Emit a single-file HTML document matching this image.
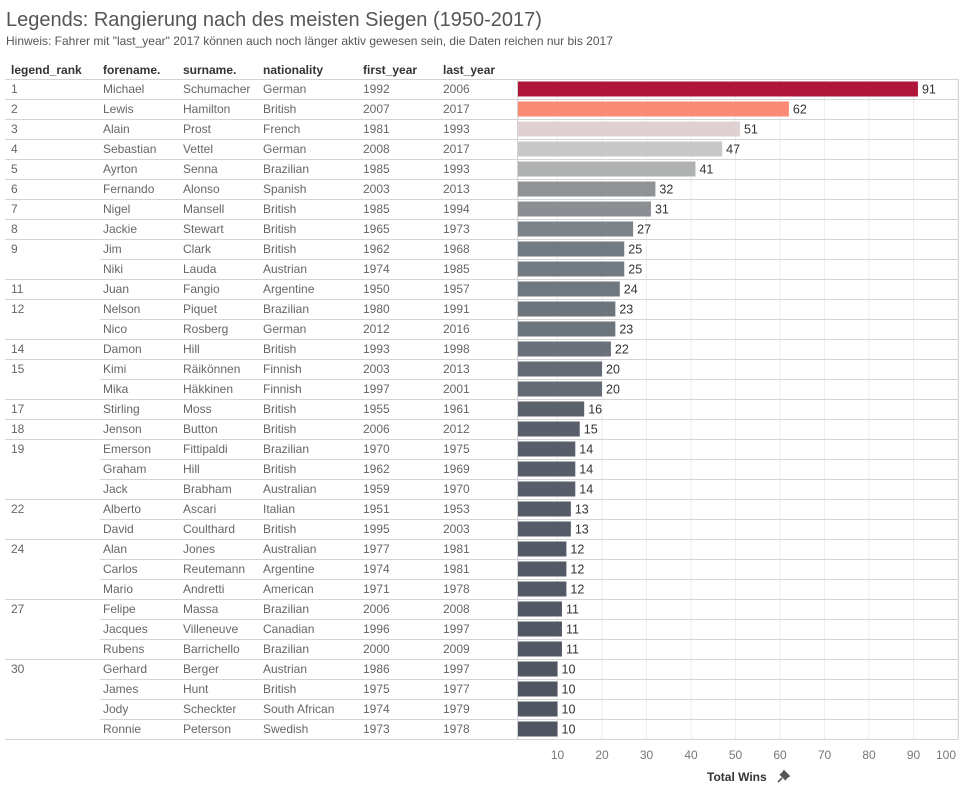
<!DOCTYPE html>
<html><head><meta charset="utf-8"><style>
body{margin:0;background:#fff;width:973px;height:786px;overflow:hidden;font-family:"Liberation Sans",sans-serif;color:#555}
</style></head><body>
<svg id="c" width="973" height="786" xmlns="http://www.w3.org/2000/svg"></svg>
<script>
const ranks=[1,2,3,4,5,6,7,8,9,9,11,12,12,14,15,15,17,18,19,19,19,22,22,24,24,24,27,27,27,30,30,30,30];
const forenames=["Michael","Lewis","Alain","Sebastian","Ayrton","Fernando","Nigel","Jackie","Jim","Niki","Juan","Nelson","Nico","Damon","Kimi","Mika","Stirling","Jenson","Emerson","Graham","Jack","Alberto","David","Alan","Carlos","Mario","Felipe","Jacques","Rubens","Gerhard","James","Jody","Ronnie"];
const surnames=["Schumacher","Hamilton","Prost","Vettel","Senna","Alonso","Mansell","Stewart","Clark","Lauda","Fangio","Piquet","Rosberg","Hill","Räikönnen","Häkkinen","Moss","Button","Fittipaldi","Hill","Brabham","Ascari","Coulthard","Jones","Reutemann","Andretti","Massa","Villeneuve","Barrichello","Berger","Hunt","Scheckter","Peterson"];
const nationalities=["German","British","French","German","Brazilian","Spanish","British","British","British","Austrian","Argentine","Brazilian","German","British","Finnish","Finnish","British","British","Brazilian","British","Australian","Italian","British","Australian","Argentine","American","Brazilian","Canadian","Brazilian","Austrian","British","South African","Swedish"];
const firstYears=[1992,2007,1981,2008,1985,2003,1985,1965,1962,1974,1950,1980,2012,1993,2003,1997,1955,2006,1970,1962,1959,1951,1995,1977,1974,1971,2006,1996,2000,1986,1975,1974,1973];
const lastYears=[2006,2017,1993,2017,1993,2013,1994,1973,1968,1985,1957,1991,2016,1998,2013,2001,1961,2012,1975,1969,1970,1953,2003,1981,1981,1978,2008,1997,2009,1997,1977,1979,1978];
const wins=[91,62,51,47,41,32,31,27,25,25,24,23,23,22,20,20,16,15,14,14,14,13,13,12,12,12,11,11,11,10,10,10,10];
const ticks=[10,20,30,40,50,60,70,80,90,100];

const svg=document.getElementById('c');
const NS='http://www.w3.org/2000/svg';
function mk(t,a,txt){const e=document.createElementNS(NS,t);for(const k in a)e.setAttribute(k,a[k]);if(txt!==undefined)e.textContent=txt;svg.appendChild(e);return e;}
const x=v=>513+4.45*v;
const top0=79,rh=20;
const stops=[[10,[79,85,97]],[20,[100,107,116]],[25,[115,123,130]],[31,[139,143,147]],[41,[176,178,178]],[47,[200,200,200]],[51,[223,209,209]],[62,[250,138,116]],[91,[176,21,60]]];
function col(v){for(let i=0;i<stops.length-1;i++){const[a,ca]=stops[i],[b,cb]=stops[i+1];if(v<=b){const t=Math.max(0,(v-a)/(b-a));return 'rgb('+ca.map((c,j)=>Math.round(c+(cb[j]-c)*t)).join(',')+')';}}return 'rgb(176,21,60)';}

let e;
e=mk('text',{x:6,y:26,'font-size':20,fill:'#555'},'Legends: Rangierung nach des meisten Siegen (1950-2017)');

e=mk('text',{x:6,y:45,'font-size':12,fill:'#555'},'Hinweis: Fahrer mit "last_year" 2017 können auch noch länger aktiv gewesen sein, die Daten reichen nur bis 2017');

const cols=[11,103,183,263,363,443];
const heads=['legend_rank','forename.','surname.','nationality','first_year','last_year'];
heads.forEach((h,i)=>{const t=mk('text',{x:cols[i],y:74,'font-size':12,'font-weight':'bold',fill:'#333'},h);
});
ticks.forEach(t=>{const l=mk('line',{x1:x(t),x2:x(t),y1:top0,y2:top0+rh*wins.length,stroke:'#eee'});
});
const n=wins.length;
for(let i=0;i<n;i++){
  const y=top0+rh*i;
  const newGroup=i===0||ranks[i]!==ranks[i-1];
  const ln=mk('line',{x1:newGroup?5:100,x2:958,y1:y+0.5,y2:y+0.5,stroke:'#d4d4d4'});
  
  const vals=[newGroup?ranks[i]:'',forenames[i],surnames[i],nationalities[i],firstYears[i],lastYears[i]];
  vals.forEach((v,j)=>{if(v==='')return;const t=mk('text',{x:cols[j],y:y+14,'font-size':12,fill:'#666'},v);
    });
  const b=mk('rect',{x:518,y:y+2.5,width:x(wins[i])-518,height:15,fill:col(wins[i])});
  
  const lb=mk('text',{x:x(wins[i])+4,y:y+14.5,'font-size':12.5,fill:'#333'},wins[i]);
  
}
const bottom=top0+rh*n;
e=mk('line',{x1:5,x2:958,y1:bottom+0.5,y2:bottom+0.5,stroke:'#d4d4d4'});
e=mk('line',{x1:517.5,x2:517.5,y1:top0,y2:bottom,stroke:'#d4d4d4'});
e=mk('line',{x1:958.5,x2:958.5,y1:top0,y2:bottom,stroke:'#d4d4d4'});
ticks.forEach(t=>{const tx=mk('text',{x:t===100?x(t)-2:x(t),y:759,'font-size':12,fill:'#777','text-anchor':t===100?'end':'middle'},t);
  });
e=mk('text',{x:707,y:781,'font-size':12,'font-weight':'bold',fill:'#333'},'Total Wins');

e=mk('path',{d:'M778 782 L782 778 M780 774 L786 780 M781 775 L784 771 L789 776 L785 779 Z',stroke:'#555','stroke-width':1.6,fill:'#555'});

</script>
</body></html>
